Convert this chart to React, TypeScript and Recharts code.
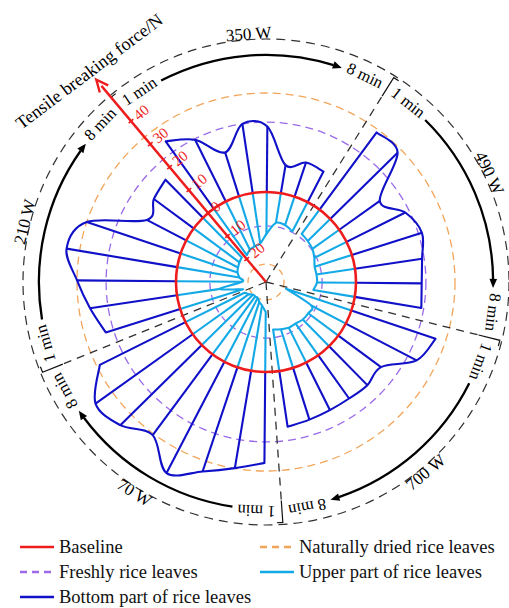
import React from "react";
import { RadarChart, Radar, PolarAngleAxis, PolarRadiusAxis } from "recharts";

const powers = ["70 W", "210 W", "350 W", "490 W", "700 W"];
const minutes = ["1 min", "2 min", "3 min", "4 min", "5 min", "6 min", "7 min", "8 min"];

// bottom part of the leaf, N (rows follow powers, columns 1-8 min)
const bottomForce = [
  [30.3, 32.9, 36.6, 41.8, 33.5, 38.1, 39.8, 31.9],
  [26.0, 29.3, 33.0, 37.4, 33.0, 14.8, 16.5, 17.8],
  [27.6, 23.0, 15.3, 23.3, 21.8, 9.5, 12.0, 11.5],
  [32.0, 31.5, 16.6, 21.9, 24.5, 22.6, 21.9, 22.5],
  [29.6, 26.6, 17.7, 18.2, 17.7, 17.7, 18.1, 18.8],
];

// upper part of the leaf, N (plotted inward from the baseline)
const upperForce = [
  [20, 22, 23, 24, 24, 24, 23, 22],
  [22, 14, 22, 21, 20, 19.5, 19, 18.5],
  [19, 18, 17.5, 17, 14, 10, 10, 11],
  [10, 10.5, 11, 12, 13, 13, 13, 14],
  [23, 13, 12.5, 12.5, 13, 13, 13.5, 14],
];

// untreated references, N
const freshUpper = 11.3;
const freshBottom = 23.3;
const driedUpper = 24;
const driedBottom = 33;

const forceTicks = [-20, -10, 0, 10, 20, 30, 40];

const legendNames = [
  "Baseline",
  "Naturally dried rice leaves",
  "Freshly rice leaves",
  "Upper part of rice leaves",
  "Bottom part of rice leaves",
];

// radial layout (force units): arrow arcs, outer rim, axis tip
const radiusDomain = [-30, 58];
const ARC_LEVEL = 45.7;
const RIM_LEVEL = 51;
const TIP_LEVEL = 58;

const RED = "#ee1c1c";
const DARK_BLUE = "#1010c8";
const LIGHT_BLUE = "#13a9e6";
const ORANGE = "#f2a55a";
const PURPLE = "#9a6ae8";
const GREY = "#303030";
const SERIF = '"Liberation Serif", "Times New Roman", serif';

const WIDTH = 509;
const CX = 266;
const CY = 282;
const OUTER_R = 264;
const START_ANGLE = -90.5;

const RAD = Math.PI / 180;
type Pt = { x: number; y: number };

const polar = (cx: number, cy: number, r: number, a: number): Pt => ({
  x: cx + r * Math.cos(-a * RAD),
  y: cy + r * Math.sin(-a * RAD),
});

const radiusOf = (v: number) =>
  (OUTER_R * (v - radiusDomain[0])) / (radiusDomain[1] - radiusDomain[0]);

const rows = powers.flatMap((p, s) =>
  minutes.map((m, i) => ({
    key: `${p} ${m}`,
    bottom: [0, bottomForce[s][i]],
    upper: [0, -upperForce[s][i]],
    freshOut: freshBottom,
    freshIn: -freshUpper,
    driedOut: driedBottom,
    driedIn: -driedUpper,
    base: 0,
    frame: [ARC_LEVEL, RIM_LEVEL],
    tip: TIP_LEVEL,
  }))
);

// base points of a range radar; rebuilt from the axis domain if the library does not hand them over
function rootsOf(props: any, level: number): Pt[] {
  const pts = props.points || [];
  const bl = props.baseLinePoints;
  if (Array.isArray(bl) && bl.length === pts.length && bl.every((b: any) => b && isFinite(b.x))) {
    return bl;
  }
  return pts.map((p: any) => polar(p.cx, p.cy, radiusOf(level), p.angle));
}

function curveThrough(p: Pt[]) {
  let d = "";
  const k = 1 / 6;
  for (let i = 0; i < p.length - 1; i++) {
    const a = p[Math.max(i - 1, 0)];
    const b = p[i];
    const c = p[i + 1];
    const e = p[Math.min(i + 2, p.length - 1)];
    d += `C${b.x + (c.x - a.x) * k},${b.y + (c.y - a.y) * k} ${c.x - (e.x - b.x) * k},${
      c.y - (e.y - b.y) * k
    } ${c.x},${c.y}`;
  }
  return d;
}

const ring = (stroke: string, dash?: string, width = 1.3) => (props: any) => {
  const p = props.points?.[0];
  if (!p) return <g />;
  return (
    <circle
      cx={p.cx}
      cy={p.cy}
      r={p.radius}
      fill="none"
      stroke={stroke}
      strokeWidth={width}
      strokeDasharray={dash}
    />
  );
};

// one closed fan per power level: first spoke, smoothed tips, last spoke
const spokes = (color: string) => (props: any) => {
  const pts: Pt[] = props.points || [];
  if (!pts.length) return <g />;
  const roots = rootsOf(props, 0);
  const n = minutes.length;
  return (
    <g>
      {powers.map((p, s) => {
        const tips = pts.slice(s * n, s * n + n);
        const feet = roots.slice(s * n, s * n + n);
        const d =
          `M${feet[0].x},${feet[0].y}L${tips[0].x},${tips[0].y}` +
          curveThrough(tips) +
          `L${feet[n - 1].x},${feet[n - 1].y}`;
        return (
          <g key={p}>
            {tips.slice(1, n - 1).map((t, i) => (
              <line
                key={i}
                x1={feet[i + 1].x}
                y1={feet[i + 1].y}
                x2={t.x}
                y2={t.y}
                stroke={color}
                strokeWidth={2.1}
              />
            ))}
            <path d={d} fill="none" stroke={color} strokeWidth={2.1} strokeLinejoin="round" />
          </g>
        );
      })}
    </g>
  );
};

const clockOf = (a: number) => 90 - a;
const uprightRot = (a: number) => {
  const c = ((clockOf(a) % 360) + 360) % 360;
  return c > 90 && c < 270 ? c - 180 : c;
};

// power label placed outside the rim, slid along it until it sits inside the page
function powerLabelSpot(cx: number, cy: number, r: number, a: number, text: string, size: number) {
  const w = text.length * size * 0.48;
  const h = size;
  const dir = Math.cos(a * RAD) > 0 ? 1 : -1;
  let angle = a;
  for (let i = 0; i < 20; i++) {
    const p = polar(cx, cy, r, angle);
    const rot = uprightRot(angle) * RAD;
    const half = (w / 2) * Math.abs(Math.cos(rot)) + (h / 2) * Math.abs(Math.sin(rot));
    if (p.x + half <= WIDTH - 3 && p.x - half >= 3) return { p, angle };
    angle += dir * 0.5;
  }
  return { p: polar(cx, cy, r, angle), angle };
}

const renderFrame = (props: any) => {
  const rim = props.points || [];
  if (rim.length < 2) return <g />;
  const { cx, cy } = rim[0];
  const rRim = rim[0].radius;
  const arcRoot = rootsOf(props, ARC_LEVEL)[0];
  const rArc = Math.hypot(arcRoot.x - cx, arcRoot.y - cy);
  const step = rim[0].angle - rim[1].angle;
  const n = minutes.length;
  const at = (r: number, a: number) => polar(cx, cy, r, a);

  return (
    <g>
      <circle cx={cx} cy={cy} r={rRim} fill="none" stroke={GREY} strokeWidth={1.2} strokeDasharray="9 6" />
      {powers.map((p, s) => {
        const startA = rim[s * n].angle + step / 2;
        const endA = rim[s * n + n - 1].angle - step / 2;
        const midA = (startA + endA) / 2;

        // boundary: dashed ray and bracket
        const rayEnd = at(rArc - 8, startA);
        const b0 = at(rArc - 8, startA);
        const b1 = at(rRim - 2, startA);
        const b2 = at(rRim - 2, startA - 1.4);

        // arc with arrow head
        const a0 = startA - 12.5;
        const a1 = endA + 12.5;
        const head = at(rArc, a1);
        const arcEnd = at(rArc, a1 + 2.2);
        const arcStart = at(rArc, a0);
        const tx = Math.sin(a1 * RAD);
        const ty = Math.cos(a1 * RAD);
        const nx = -ty;
        const ny = tx;
        const hb = { x: head.x - tx * 9, y: head.y - ty * 9 };

        const oneA = startA - 6.4;
        const eightA = endA + 6.4;
        const onePos = at(rArc + 2, oneA);
        const eightPos = at(rArc + 2, eightA);

        const spot = powerLabelSpot(cx, cy, rRim + 5.5, midA, p, 17);
        const lp = spot.p;
        const labelRot = uprightRot(spot.angle);

        return (
          <g key={p}>
            <line x1={cx} y1={cy} x2={rayEnd.x} y2={rayEnd.y} stroke={GREY} strokeWidth={1.3} strokeDasharray="8 6" />
            <polyline
              points={`${b0.x},${b0.y} ${b1.x},${b1.y} ${b2.x},${b2.y}`}
              fill="none"
              stroke="#111"
              strokeWidth={1.2}
            />
            <path
              d={`M${arcStart.x},${arcStart.y}A${rArc},${rArc} 0 0 1 ${arcEnd.x},${arcEnd.y}`}
              fill="none"
              stroke="#000"
              strokeWidth={2.3}
            />
            <polygon
              points={`${head.x},${head.y} ${hb.x + nx * 3.8},${hb.y + ny * 3.8} ${hb.x - nx * 3.8},${hb.y - ny * 3.8}`}
              fill="#000"
            />
            <text
              x={onePos.x}
              y={onePos.y}
              transform={`rotate(${clockOf(oneA)}, ${onePos.x}, ${onePos.y})`}
              textAnchor="middle"
              dominantBaseline="central"
              fontSize={16.5}
              fontFamily={SERIF}
              fill="#000"
            >
              {minutes[0]}
            </text>
            <text
              x={eightPos.x}
              y={eightPos.y}
              transform={`rotate(${clockOf(eightA)}, ${eightPos.x}, ${eightPos.y})`}
              textAnchor="middle"
              dominantBaseline="central"
              fontSize={16.5}
              fontFamily={SERIF}
              fill="#000"
            >
              {minutes[n - 1]}
            </text>
            <text
              x={lp.x}
              y={lp.y}
              transform={`rotate(${labelRot}, ${lp.x}, ${lp.y})`}
              textAnchor="middle"
              dominantBaseline="central"
              fontSize={17}
              fontFamily={SERIF}
              fill="#000"
            >
              {p}
            </text>
          </g>
        );
      })}
    </g>
  );
};

// red force axis drawn along the 210 W / 350 W boundary
const renderPointer = (props: any) => {
  const pts = props.points || [];
  if (pts.length < 2) return <g />;
  const { cx, cy } = pts[0];
  const step = pts[0].angle - pts[1].angle;
  const a = pts[2 * minutes.length].angle + step / 2;
  const rTip = pts[0].radius;
  const tip = polar(cx, cy, rTip, a);
  const ux = Math.cos(-a * RAD);
  const uy = Math.sin(-a * RAD);
  const px = -uy;
  const py = ux;
  const hb = { x: tip.x - ux * 12, y: tip.y - uy * 12 };
  const title = polar(cx, cy, rTip + 11, a);
  const rot = (Math.atan2(py, px) * 180) / Math.PI + 3;
  return (
    <g>
      <line x1={cx} y1={cy} x2={hb.x + ux * 4} y2={hb.y + uy * 4} stroke={RED} strokeWidth={2.4} />
      <polyline
        points={`${hb.x + px * 5.5},${hb.y + py * 5.5} ${tip.x},${tip.y} ${hb.x - px * 5.5},${hb.y - py * 5.5}`}
        fill="none"
        stroke={RED}
        strokeWidth={2.4}
      />
      <text
        x={title.x}
        y={title.y}
        transform={`rotate(${rot}, ${title.x}, ${title.y})`}
        textAnchor="middle"
        dominantBaseline="central"
        fontSize={18}
        fontFamily={SERIF}
        fill="#000"
      >
        Tensile breaking force/N
      </text>
    </g>
  );
};

const AXIS_ANGLE = START_ANGLE + 4.5 - 9 * 16;

const renderForceTick = (props: any) => {
  const { x, y, payload } = props;
  if (!isFinite(x) || !isFinite(y)) return <g />;
  const ux = Math.cos(-AXIS_ANGLE * RAD);
  const uy = Math.sin(-AXIS_ANGLE * RAD);
  const px = -uy;
  const py = ux;
  const rot = (Math.atan2(py, px) * 180) / Math.PI;
  const lx = x + px * 6;
  const ly = y + py * 6;
  return (
    <g>
      <line x1={x - px * 3} y1={y - py * 3} x2={x + px * 3} y2={y + py * 3} stroke={RED} strokeWidth={1.6} />
      <text
        x={lx}
        y={ly}
        transform={`rotate(${rot}, ${lx}, ${ly})`}
        textAnchor="start"
        dominantBaseline="central"
        fontSize={15}
        fontFamily={SERIF}
        fill={RED}
      >
        {Math.abs(payload.value)}
      </text>
    </g>
  );
};

const legendStyle = [
  { color: RED, dash: undefined, left: 20, top: 547 },
  { color: ORANGE, dash: "7 5", left: 260, top: 547 },
  { color: PURPLE, dash: "7 5", left: 20, top: 572 },
  { color: LIGHT_BLUE, dash: undefined, left: 260, top: 572 },
  { color: DARK_BLUE, dash: undefined, left: 20, top: 597 },
];

export default function App() {
  return (
    <div
      style={{
        position: "absolute",
        left: 0,
        top: 0,
        width: WIDTH,
        height: 608,
        background: "#fff",
        overflow: "hidden",
      }}
    >
      <RadarChart
        width={WIDTH}
        height={608}
        data={rows}
        cx={CX}
        cy={CY}
        innerRadius={0}
        outerRadius={OUTER_R}
        startAngle={START_ANGLE}
        endAngle={START_ANGLE - 360}
        margin={{ top: 0, right: 0, bottom: 0, left: 0 }}
        style={{ overflow: "visible" }}
      >
        <PolarAngleAxis dataKey="key" tick={false} axisLine={false} tickLine={false} />
        <Radar dataKey="driedOut" isAnimationActive={false} shape={ring(ORANGE, "8 5")} />
        <Radar dataKey="driedIn" isAnimationActive={false} shape={ring(ORANGE, "6 5")} />
        <Radar dataKey="freshOut" isAnimationActive={false} shape={ring(PURPLE, "8 5")} />
        <Radar dataKey="freshIn" isAnimationActive={false} shape={ring(PURPLE, "7 5")} />
        <Radar dataKey="frame" isAnimationActive={false} shape={renderFrame} />
        <Radar dataKey="bottom" isAnimationActive={false} shape={spokes(DARK_BLUE)} />
        <Radar dataKey="upper" isAnimationActive={false} shape={spokes(LIGHT_BLUE)} />
        <Radar dataKey="base" isAnimationActive={false} shape={ring(RED, undefined, 2.6)} />
        <Radar dataKey="tip" isAnimationActive={false} shape={renderPointer} />
        <PolarRadiusAxis
          angle={AXIS_ANGLE}
          type="number"
          domain={radiusDomain}
          allowDataOverflow
          ticks={forceTicks}
          tick={renderForceTick}
          tickLine={false}
          axisLine={false}
        />
      </RadarChart>
      {legendNames.map((name, i) => {
        const st = legendStyle[i];
        return (
          <div
            key={name}
            style={{
              position: "absolute",
              left: st.left,
              top: st.top - 12,
              height: 24,
              display: "flex",
              alignItems: "center",
              fontFamily: SERIF,
              fontSize: 18.5,
              color: "#111",
              whiteSpace: "nowrap",
            }}
          >
            <svg width={34} height={8} style={{ marginRight: 5 }}>
              <line
                x1={0}
                y1={4}
                x2={34}
                y2={4}
                stroke={st.color}
                strokeWidth={2.6}
                strokeDasharray={st.dash}
              />
            </svg>
            {name}
          </div>
        );
      })}
    </div>
  );
}
